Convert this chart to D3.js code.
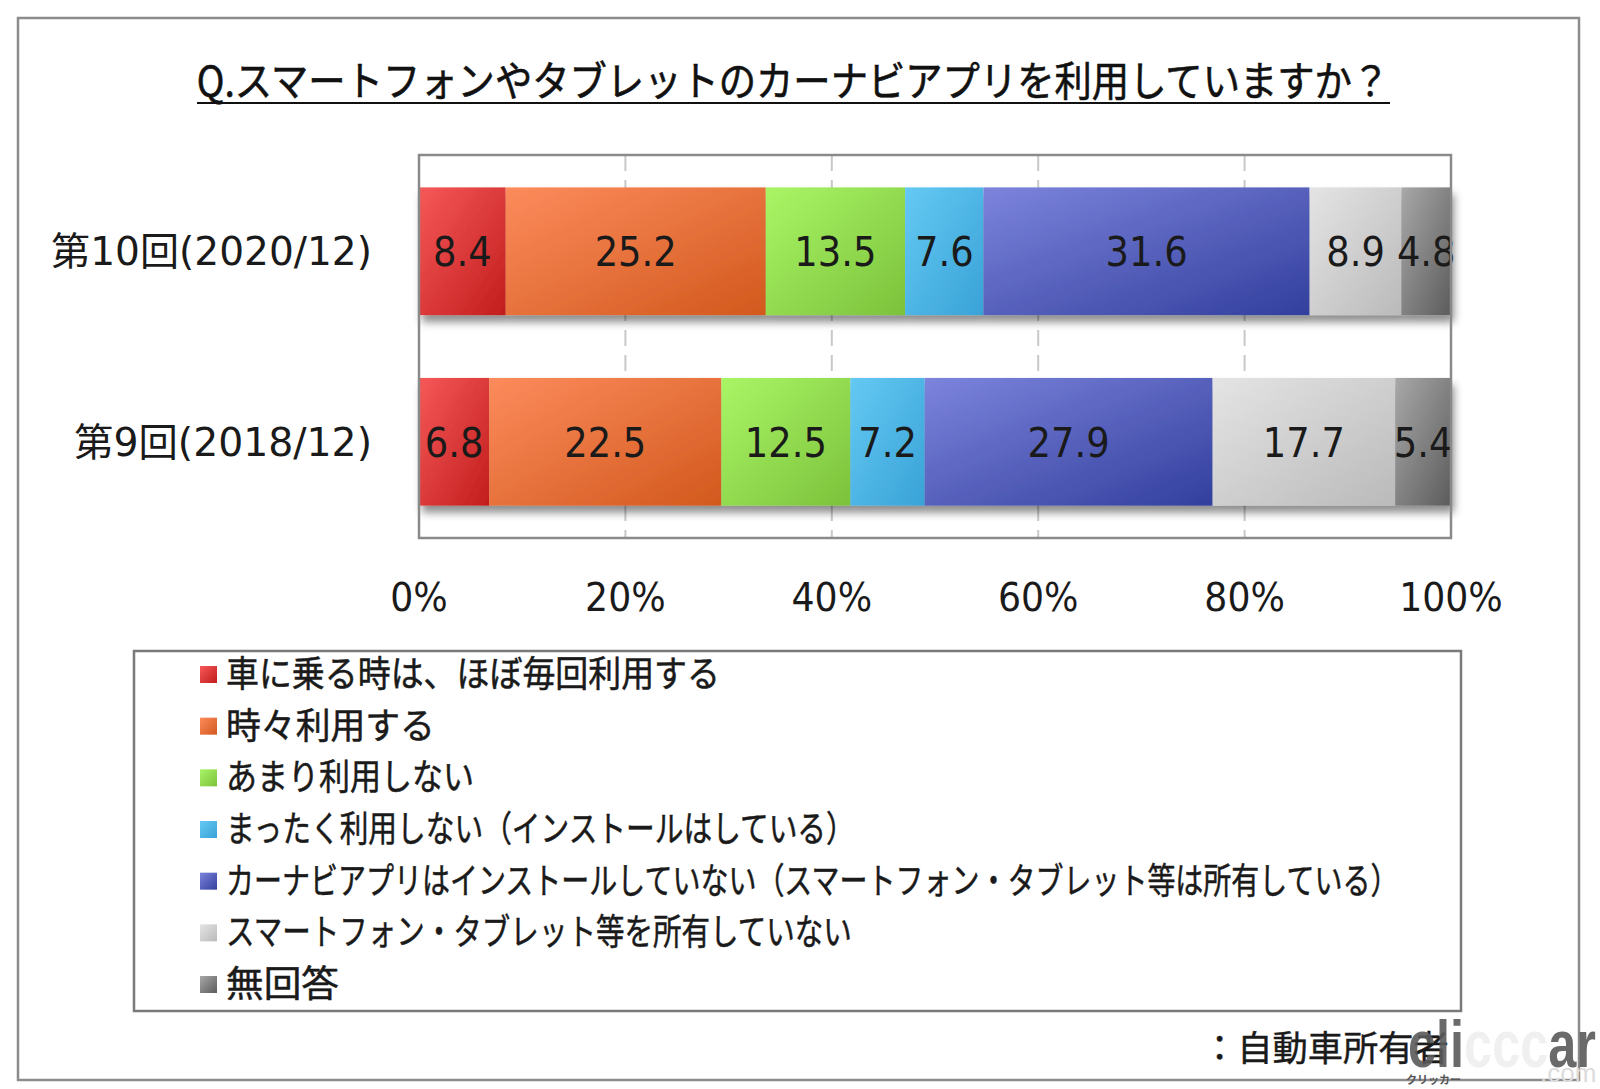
<!DOCTYPE html>
<html><head><meta charset="utf-8">
<script src="https://cdn.jsdelivr.net/npm/d3@7"></script>
<style>body{margin:0;background:#fff}</style>
</head><body>
<svg id="c" width="1600" height="1089" xmlns="http://www.w3.org/2000/svg"></svg>
<script>
// ---------- data ----------
const titleText = "Q.スマートフォンやタブレットのカーナビアプリを利用していますか？";
const categories = ["第10回(2020/12)", "第9回(2018/12)"];
const seriesNames = [
  "車に乗る時は、ほぼ毎回利用する",
  "時々利用する",
  "あまり利用しない",
  "まったく利用しない（インストールはしている）",
  "カーナビアプリはインストールしていない（スマートフォン・タブレット等は所有している）",
  "スマートフォン・タブレット等を所有していない",
  "無回答"
];
const values2020 = [8.4, 25.2, 13.5, 7.6, 31.6, 8.9, 4.8];
const values2018 = [6.8, 22.5, 12.5, 7.2, 27.9, 17.7, 5.4];
const tickValues = [0, 20, 40, 60, 80, 100];
const tickLabels = ["0%", "20%", "40%", "60%", "80%", "100%"];
const noteText = "：自動車所有者";

// ---------- styles ----------
const lightColors = ["#f65858", "#fc8b5c", "#a9f566", "#64c9f3", "#7c84dc", "#e4e4e4", "#a8a8a8"];
const darkColors  = ["#c21d1d", "#d2591d", "#7cc23b", "#39a2d7", "#323f9d", "#bababa", "#5c5c5c"];
const jpFont = "'Noto Sans CJK JP', 'Noto Sans', sans-serif";
const numFont = "'DejaVu Sans', 'Noto Sans CJK JP', sans-serif";
const legendWidths = [494, 209, 248, 629, 1173, 626, 113];

const svg = d3.select("#c");
const defs = svg.append("defs");
seriesNames.forEach((s, i) => {
  const g = defs.append("linearGradient").attr("id", "grad" + i)
    .attr("x1", "0").attr("y1", "0").attr("x2", "1").attr("y2", "1");
  g.append("stop").attr("offset", "0%").attr("stop-color", lightColors[i]);
  g.append("stop").attr("offset", "100%").attr("stop-color", darkColors[i]);
});
const f = defs.append("filter").attr("id", "shadow")
  .attr("x", "-5%").attr("y", "-10%").attr("width", "115%").attr("height", "140%");
f.append("feDropShadow").attr("dx", 3).attr("dy", 7).attr("stdDeviation", 4)
  .attr("flood-color", "#000").attr("flood-opacity", 0.45);

// helper: text condensed horizontally to a target width or by a factor
function addText(parent, str, x, y, opts) {
  const g = parent.append("g").attr("transform", `translate(${x},${y})`);
  const t = g.append("text").text(str)
    .attr("font-family", opts.font).attr("font-size", opts.size)
    .attr("text-anchor", opts.anchor || "start")
    .attr("fill", opts.fill || "#1a1a1a")
    .attr("font-weight", opts.weight || "normal");
  if (opts.stroke) t.attr("stroke", opts.fill || "#1a1a1a").attr("stroke-width", opts.stroke);
  const w = t.node().getComputedTextLength();
  let k = opts.scale || 1;
  if (opts.width) k = opts.width / w;
  g.attr("transform", `translate(${x},${y}) scale(${k},1)`);
  return { g, t, w, k };
}

// outer frame
svg.append("rect").attr("x", 18).attr("y", 18).attr("width", 1561).attr("height", 1062)
  .attr("fill", "#fff").attr("stroke", "#8c8c8c").attr("stroke-width", 2.5);

// title
addText(svg, titleText, 793, 96, { font: jpFont, size: 41, anchor: "middle", width: 1193, fill: "#111", stroke: 0.6 });
svg.append("line").attr("x1", 197).attr("x2", 1390).attr("y1", 103).attr("y2", 103)
  .attr("stroke", "#111").attr("stroke-width", 2.2);

// scales
const x = d3.scaleLinear().domain([0, 100]).range([419, 1451]);
const y = d3.scaleBand().domain(categories).range([155, 538]).paddingInner(0.33).paddingOuter(0.17);

// plot background + grid
svg.append("rect").attr("x", x(0)).attr("y", 155).attr("width", x(100) - x(0)).attr("height", 383)
  .attr("fill", "#fff");
svg.append("g").selectAll("line").data(tickValues.slice(1, -1)).join("line")
  .attr("x1", d => x(d)).attr("x2", d => x(d)).attr("y1", 155).attr("y2", 538)
  .attr("stroke", "#c9c9c9").attr("stroke-width", 2).attr("stroke-dasharray", "16,9");

// stacked data
const rows = categories.map((c, ci) => {
  const vals = ci === 0 ? values2020 : values2018;
  const o = { cat: c };
  seriesNames.forEach((s, i) => o["s" + i] = vals[i]);
  return o;
});
const keys = seriesNames.map((s, i) => "s" + i);
const stacked = d3.stack().keys(keys)(rows);

const barLayer = svg.append("g");
categories.forEach((c, ci) => {
  const row = barLayer.append("g").attr("filter", "url(#shadow)");
  stacked.forEach((layer, li) => {
    const d = layer[ci];
    row.append("rect")
      .attr("x", x(d[0])).attr("y", y(c))
      .attr("width", x(d[1]) - x(d[0])).attr("height", y.bandwidth())
      .attr("fill", `url(#grad${li})`);
  });
});
// value labels
categories.forEach((c, ci) => {
  stacked.forEach((layer, li) => {
    const d = layer[ci];
    const v = d[1] - d[0];
    addText(svg, d3.format(".1f")(v), x((d[0] + d[1]) / 2), y(c) + y.bandwidth() / 2 + 15,
      { font: numFont, size: 41, anchor: "middle", scale: 0.9, fill: "#1a1a1a" });
  });
});

// plot border
svg.append("rect").attr("x", x(0)).attr("y", 155).attr("width", x(100) - x(0)).attr("height", 383)
  .attr("fill", "none").attr("stroke", "#8a8a8a").attr("stroke-width", 2.5);

// category labels
const catWidths = [321, 298];
categories.forEach((c, ci) => {
  addText(svg, c, 372, y(c) + y.bandwidth() / 2 + 14,
    { font: numFont, size: 39, anchor: "end", width: catWidths[ci], fill: "#1a1a1a" });
});

// x axis tick labels
tickValues.forEach((t, i) => {
  addText(svg, tickLabels[i], x(t), 611, { font: numFont, size: 39, anchor: "middle", scale: 0.93, fill: "#1a1a1a" });
});

// legend
svg.append("rect").attr("x", 134).attr("y", 651).attr("width", 1327).attr("height", 360)
  .attr("fill", "#fff").attr("stroke", "#7a7a7a").attr("stroke-width", 2.5);
const legendY = d3.scaleLinear().domain([0, seriesNames.length - 1]).range([674, 984]);
seriesNames.forEach((s, i) => {
  svg.append("rect").attr("x", 200).attr("y", legendY(i) - 8).attr("width", 17).attr("height", 17)
    .attr("fill", `url(#grad${i})`);
  addText(svg, s, 226, legendY(i) + 13, { font: jpFont, size: 36, width: legendWidths[i], fill: "#1a1a1a", stroke: 0.5 });
});

// note
addText(svg, noteText, 1202, 1061, { font: jpFont, size: 35, width: 247, fill: "#1a1a1a", stroke: 0.4 });

// watermark logo
const logo = svg.append("g").attr("opacity", 0.9);
const lt = logo.append("text").attr("x", 0).attr("y", 0)
  .attr("font-family", "'Liberation Sans', Arial, sans-serif").attr("font-weight", "bold").attr("font-size", 66);
lt.append("tspan").text("cli").attr("fill", "#5a5a5a");
lt.append("tspan").text("ccc").attr("fill", "#efefef");
lt.append("tspan").text("ar").attr("fill", "#5a5a5a");
const lw = lt.node().getComputedTextLength();
logo.attr("transform", `translate(1408,1067) scale(${188 / lw},1)`);
svg.append("text").text("クリッカー").attr("x", 1406).attr("y", 1084)
  .attr("font-family", jpFont).attr("font-size", 11).attr("font-weight", "bold").attr("fill", "#555");
svg.append("text").text(".com").attr("x", 1540).attr("y", 1082)
  .attr("font-family", "'Liberation Sans', sans-serif").attr("font-size", 26).attr("fill", "#dcdcdc");
</script>
</body></html>
